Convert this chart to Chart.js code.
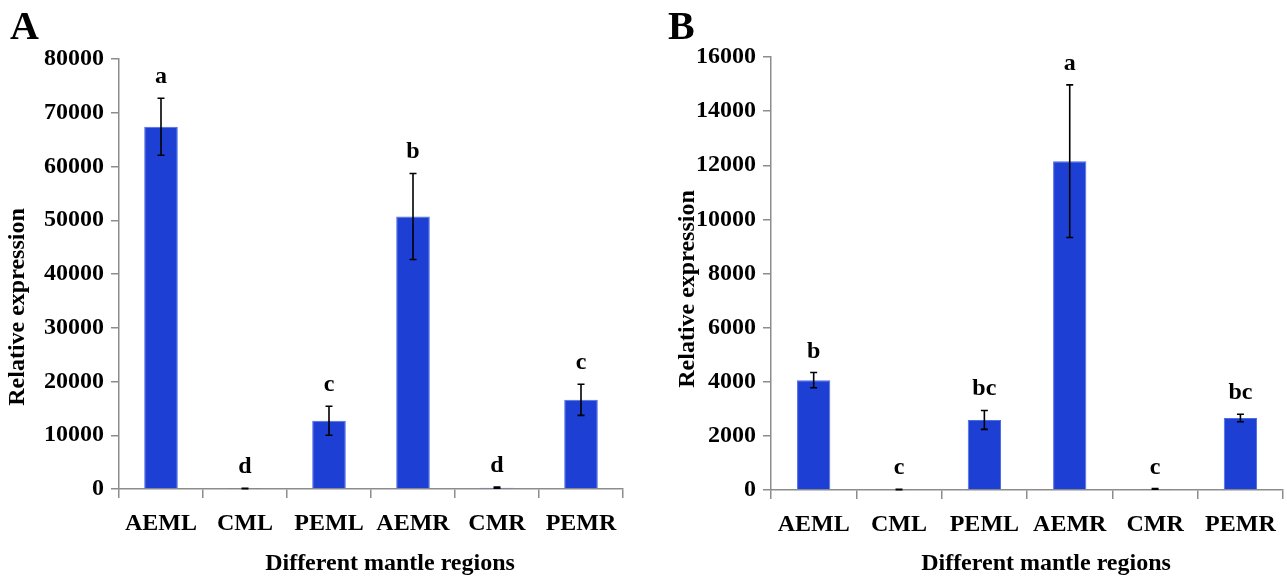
<!DOCTYPE html>
<html>
<head>
<meta charset="utf-8">
<script src="https://cdn.jsdelivr.net/npm/chart.js@4.4.1/dist/chart.umd.min.js"></script>
<style>
  html, body { margin: 0; padding: 0; background: #fff; }
  body { width: 1287px; height: 576px; position: relative; overflow: hidden; }
  .panel { position: absolute; top: 0; height: 576px; }
  #wrapA { left: 0; width: 643px; }
  #wrapB { left: 643px; width: 644px; }
</style>
</head>
<body>
<div class="panel" id="wrapA"><canvas id="chartA"></canvas></div>
<div class="panel" id="wrapB"><canvas id="chartB"></canvas></div>
<script>
const categories = ['AEML', 'CML', 'PEML', 'AEMR', 'CMR', 'PEMR'];

const valuesA = [67400, 90, 12700, 50700, 240, 16600];
const errorsA = [5300, 40, 2700, 8000, 100, 2900];
const lettersA = ['a', 'd', 'c', 'b', 'd', 'c'];

const valuesB = [4060, 20, 2590, 12150, 40, 2660];
const errorsB = [280, 10, 350, 2820, 15, 140];
const lettersB = ['b', 'c', 'bc', 'a', 'c', 'bc'];

const yMaxA = 80000, yStepA = 10000;
const yMaxB = 16000, yStepB = 2000;

const panelLabels = ['A', 'B'];
const yTitle = 'Relative expression';
const xTitle = 'Different mantle regions';

const SERIF = "'Liberation Serif', 'Times New Roman', serif";
const AXIS_COLOR = '#8c8c8c';
const BAR_COLOR = '#1d3fd4';
const BAR_EDGE = '#4d6de6';

const annotPlugin = {
  id: 'annot',
  afterDatasetsDraw(chart, args, opts) {
    const ctx = chart.ctx;
    const ys = chart.scales.y;
    const meta = chart.getDatasetMeta(0);
    const vals = chart.data.datasets[0].data;
    ctx.save();
    ctx.strokeStyle = '#000';
    ctx.lineWidth = 1.6;
    vals.forEach((v, i) => {
      const x = meta.data[i].x;
      const e = opts.errors[i];
      const yTop = ys.getPixelForValue(v + e);
      const yBot = ys.getPixelForValue(Math.max(0, v - e));
      ctx.beginPath();
      ctx.moveTo(x, yTop); ctx.lineTo(x, yBot);
      ctx.moveTo(x - 3.5, yTop); ctx.lineTo(x + 3.5, yTop);
      ctx.moveTo(x - 3.5, yBot); ctx.lineTo(x + 3.5, yBot);
      ctx.stroke();
      ctx.fillStyle = '#000';
      ctx.font = 'bold 24px ' + SERIF;
      ctx.textAlign = 'center';
      ctx.textBaseline = 'alphabetic';
      ctx.fillText(opts.letters[i], x, yTop - 15);
    });
    ctx.font = 'bold 24px ' + SERIF;
    ctx.textAlign = 'center';
    ctx.textBaseline = 'middle';
    ctx.fillText(opts.xTitle, opts.xTitlePos[0], opts.xTitlePos[1]);
    ctx.save();
    ctx.translate(opts.yTitlePos[0], opts.yTitlePos[1]);
    ctx.rotate(-Math.PI / 2);
    ctx.fillText(opts.yTitle, 0, 0);
    ctx.restore();
    ctx.font = 'bold 40px ' + SERIF;
    ctx.textAlign = 'left';
    ctx.textBaseline = 'alphabetic';
    ctx.fillText(opts.panel, opts.panelPos[0], opts.panelPos[1]);
    ctx.restore();
  }
};

function makeChart(canvasId, values, errors, letters, yMax, yStep, geo) {
  return new Chart(document.getElementById(canvasId), {
    type: 'bar',
    data: {
      labels: categories,
      datasets: [{
        data: values,
        backgroundColor: BAR_COLOR,
        borderColor: BAR_EDGE,
        borderWidth: 1,
        barPercentage: geo.barPct,
        categoryPercentage: 1.0
      }]
    },
    options: {
      responsive: true,
      maintainAspectRatio: false,
      animation: false,
      layout: { padding: { left: 0, top: geo.top, right: geo.right, bottom: 0 } },
      plugins: {
        legend: { display: false },
        tooltip: { enabled: false },
        annot: {
          errors: errors, letters: letters,
          xTitle: xTitle, yTitle: yTitle, panel: geo.panel,
          xTitlePos: geo.xTitlePos, yTitlePos: geo.yTitlePos, panelPos: geo.panelPos
        }
      },
      scales: {
        x: {
          offset: true,
          grid: { display: true, drawOnChartArea: false, drawTicks: true, tickLength: 9, color: AXIS_COLOR, lineWidth: 1.5, offset: true },
          border: { display: true, color: AXIS_COLOR, width: 1.5 },
          ticks: { color: '#000', font: { family: SERIF, size: 24, weight: 'bold' }, padding: 11, maxRotation: 0, autoSkip: false },
          afterFit(scale) { scale.height = geo.xHeight; }
        },
        y: {
          min: 0, max: yMax,
          grid: { display: true, drawOnChartArea: false, drawTicks: true, tickLength: 8, color: AXIS_COLOR, lineWidth: 1.5 },
          border: { display: true, color: AXIS_COLOR, width: 1.5 },
          ticks: { stepSize: yStep, color: '#000', font: { family: SERIF, size: 24, weight: 'bold' }, padding: 7,
                   callback: (v) => String(v) },
          afterFit(scale) { scale.width = geo.yWidth; }
        }
      }
    },
    plugins: [annotPlugin]
  });
}

makeChart('chartA', valuesA, errorsA, lettersA, yMaxA, yStepA, {
  panel: panelLabels[0], barPct: 0.4,
  top: 59, right: 20, xHeight: 87, yWidth: 119,
  xTitlePos: [390, 564], yTitlePos: [18, 307], panelPos: [10, 39]
});
makeChart('chartB', valuesB, errorsB, lettersB, yMaxB, yStepB, {
  panel: panelLabels[1], barPct: 0.39,
  top: 57, right: 3, xHeight: 86, yWidth: 128,
  xTitlePos: [403, 564], yTitlePos: [45, 289], panelPos: [25, 39]
});
</script>
</body>
</html>
